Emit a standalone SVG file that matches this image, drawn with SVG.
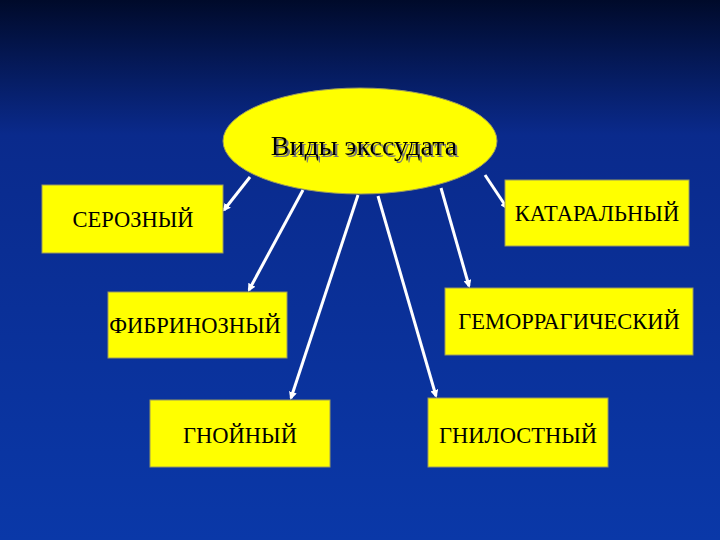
<svg xmlns="http://www.w3.org/2000/svg" width="720" height="540" viewBox="0 0 720 540">
<defs>
<linearGradient id="bg" x1="0" y1="0" x2="0" y2="1">
<stop offset="0" stop-color="#000a2a"/><stop offset="0.25" stop-color="#0a2a8c"/><stop offset="1" stop-color="#0a38a8"/>
</linearGradient>
<filter id="sh" x="-10%" y="-20%" width="120%" height="140%"><feDropShadow dx="2" dy="2" stdDeviation="0.6" flood-color="#777" flood-opacity="1"/></filter>
<marker id="ah" markerWidth="8" markerHeight="8" refX="6" refY="4" orient="auto" markerUnits="userSpaceOnUse" viewBox="0 0 8 8"><path d="M0,0 L8,4 L0,8 z" fill="#fff"/></marker>
</defs>
<style>
.box{fill:#ffff00;stroke:#9a9a60;stroke-width:1}
.t{font-family:"Liberation Serif",serif;font-size:22.5px;fill:#000;text-anchor:middle}
.c line{stroke:#fff;stroke-width:3;marker-end:url(#ah)}
</style>
<rect width="720" height="540" fill="url(#bg)"/>
<g class="c" id="connectors">
<line x1="250" y1="177" x2="224" y2="210"/>
<line x1="303" y1="190" x2="249" y2="290"/>
<line x1="358" y1="195" x2="291" y2="398"/>
<line x1="378" y1="196" x2="436" y2="396"/>
<line x1="441" y1="188" x2="469" y2="286"/>
<line x1="485" y1="175" x2="507" y2="208"/>
</g>
<g id="n0"><ellipse cx="360" cy="141" rx="137" ry="53" class="box"/><text x="364" y="155" class="t" style="font-size:28px" filter="url(#sh)">Виды экссудата</text></g>
<g id="n1"><rect x="42" y="185" width="181" height="68" class="box"/><text x="133" y="227" class="t">СЕРОЗНЫЙ</text></g>
<g id="n2"><rect x="505" y="180" width="184" height="66" class="box"/><text x="597" y="221" class="t">КАТАРАЛЬНЫЙ</text></g>
<g id="n3"><rect x="108" y="292" width="179" height="66" class="box"/><text x="195" y="333" class="t">ФИБРИНОЗНЫЙ</text></g>
<g id="n4"><rect x="445" y="288" width="248" height="67" class="box"/><text x="569" y="329" class="t">ГЕМОРРАГИЧЕСКИЙ</text></g>
<g id="n5"><rect x="150" y="400" width="180" height="67" class="box"/><text x="240" y="443" class="t">ГНОЙНЫЙ</text></g>
<g id="n6"><rect x="428" y="398" width="180" height="69" class="box"/><text x="518" y="443" class="t">ГНИЛОСТНЫЙ</text></g>
</svg>
